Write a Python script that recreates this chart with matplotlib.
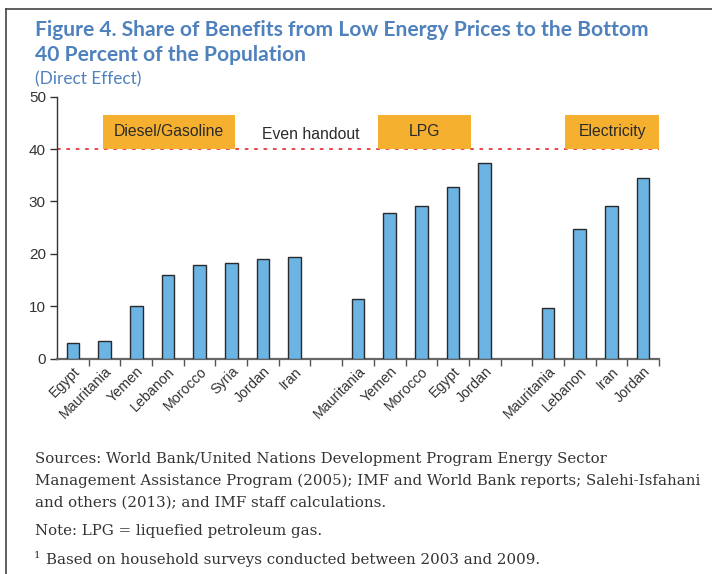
import matplotlib
matplotlib.use("Agg")
import matplotlib.pyplot as plt
from matplotlib.patches import Rectangle
import numpy as np

diesel_countries = ["Egypt", "Mauritania", "Yemen", "Lebanon", "Morocco", "Syria", "Jordan", "Iran"]
diesel_values = [3.0, 3.4, 10.0, 15.9, 17.9, 18.3, 19.1, 19.5]
lpg_countries = ["Mauritania", "Yemen", "Morocco", "Egypt", "Jordan"]
lpg_values = [11.3, 27.9, 29.1, 32.7, 37.3]
elec_countries = ["Mauritania", "Lebanon", "Iran", "Jordan"]
elec_values = [9.6, 24.7, 29.1, 34.5]
group_names = ["Diesel/Gasoline", "LPG", "Electricity"]
even_handout = 40
yticks = [0, 10, 20, 30, 40, 50]

W, H = 712, 574
fig = plt.figure(figsize=(W / 100, H / 100), dpi=100)
fig.patch.set_facecolor("white")

# outer frame lines
fig.add_artist(plt.Line2D([6 / W, 6 / W], [0, 1 - 9 / H], color="#444444", lw=1.2))
fig.add_artist(plt.Line2D([6 / W, 1], [1 - 9 / H, 1 - 9 / H], color="#444444", lw=1.2))

ax = fig.add_axes([57 / W, 1 - 358.7 / H, (659 - 57) / W, (358.7 - 96.7) / H])

groups = [(diesel_countries, diesel_values), (lpg_countries, lpg_values), (elec_countries, elec_values)]
positions, labels, values = [], [], []
pos = 0
for cats, vals in groups:
    for c, v in zip(cats, vals):
        positions.append(pos)
        labels.append(c)
        values.append(v)
        pos += 1
    pos += 1
total_slots = pos - 1

ax.bar(positions, values, width=0.4, color="#6cb4e4", edgecolor="#2a2a2a", linewidth=1.0, zorder=3)

ax.set_xlim(-0.5, total_slots - 0.5)
ax.set_ylim(0, 50)
ax.set_yticks(yticks)
ax.set_xticks(positions)
ax.set_xticklabels(labels, rotation=45, ha="right", va="top", rotation_mode="anchor",
                   fontsize=10.3, color="#333333", family="Liberation Sans")
ax.tick_params(axis="x", which="major", length=0, pad=4)
ax.set_xticks(np.arange(0.5, total_slots, 1.0), minor=True)
ax.tick_params(axis="x", which="minor", length=5, width=1.0, color="#555555", direction="out")
ax.tick_params(axis="y", length=5, width=1.0, color="#333333", labelsize=11, labelcolor="#333333", pad=3)
for lab in ax.get_yticklabels():
    lab.set_family("Liberation Sans")

for s in ["top", "right"]:
    ax.spines[s].set_visible(False)
ax.spines["left"].set_color("#333333")
ax.spines["left"].set_linewidth(1.0)
ax.spines["bottom"].set_color("#666666")
ax.spines["bottom"].set_linewidth(1.6)

ax.axhline(even_handout, color="#e8363a", lw=1.3, linestyle=(0, (2, 3.2)), zorder=2)

# group label boxes
boxes = [(0.95, 5.13), (9.62, 12.56), (15.54, 18.5)]
for (x0, x1), name in zip(boxes, group_names):
    ax.add_patch(Rectangle((x0, 40), x1 - x0, 6.5, facecolor="#f5b02f", edgecolor="none",
                           zorder=4, clip_on=False))
    ax.text((x0 + x1) / 2, 43.3, name, ha="center", va="center", fontsize=11.3,
            color="#2a2a2a", family="Liberation Sans", zorder=5)
ax.text(7.5, 42.7, "Even handout", ha="center", va="center", fontsize=11.3,
        color="#2a2a2a", family="Liberation Sans")

blue = "#4f81bd"
fig.text(35 / W, 1 - 30 / H, "Figure 4. Share of Benefits from Low Energy Prices to the Bottom",
         fontsize=15.1, fontweight="bold", color=blue, family="Lato", va="center", ha="left")
fig.text(35 / W, 1 - 55 / H, "40 Percent of the Population",
         fontsize=15.1, fontweight="bold", color=blue, family="Lato", va="center", ha="left")
fig.text(35 / W, 1 - 79 / H, "(Direct Effect)", fontsize=12.4, color=blue, family="Lato",
         va="center", ha="left")

serif = "DejaVu Serif"
foot_color = "#333333"
lines = [
    (459, "Sources: World Bank/United Nations Development Program Energy Sector"),
    (481, "Management Assistance Program (2005); IMF and World Bank reports; Salehi-Isfahani"),
    (503, "and others (2013); and IMF staff calculations."),
    (531, "Note: LPG = liquefied petroleum gas."),
]
for y, t in lines:
    fig.text(35 / W, 1 - y / H, t, fontsize=10.8, color=foot_color, family=serif, va="center", ha="left")
fig.text(34 / W, 1 - 556 / H, "1", fontsize=7.5, color=foot_color, family=serif, va="center", ha="left")
fig.text(46 / W, 1 - 560 / H, "Based on household surveys conducted between 2003 and 2009.",
         fontsize=10.8, color=foot_color, family=serif, va="center", ha="left")

fig.savefig("out.png", dpi=100)
